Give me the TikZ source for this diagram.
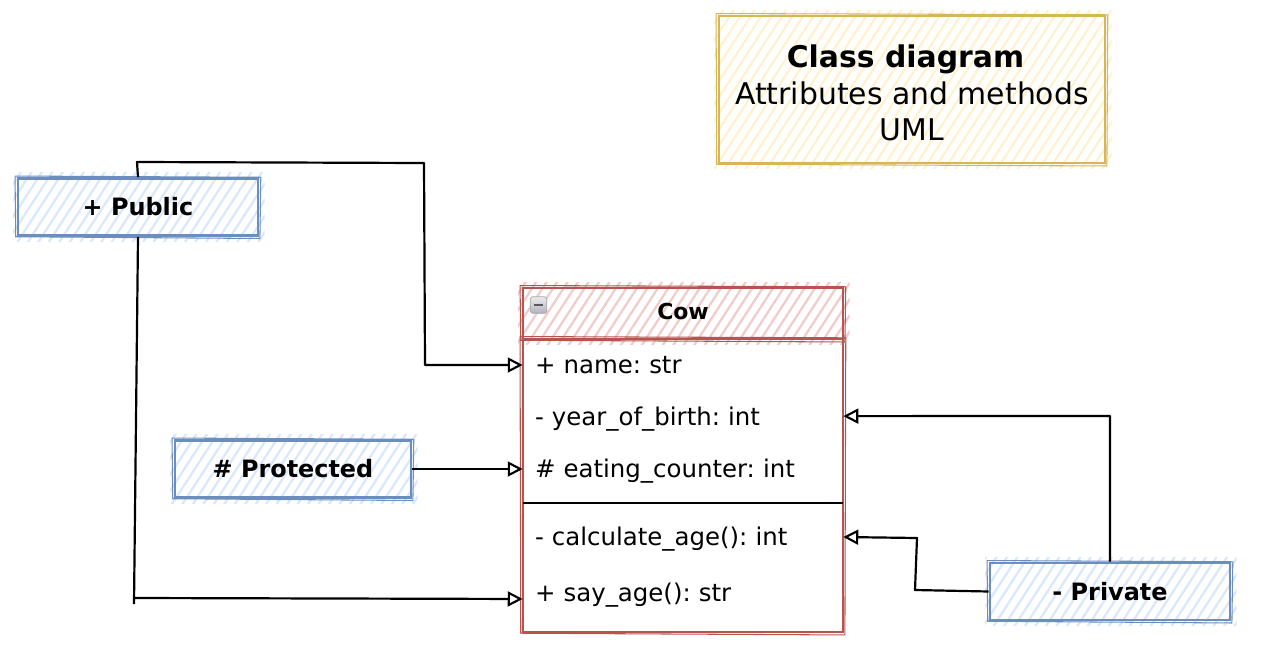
\documentclass[tikz,border=0pt]{standalone}
\usepackage{fontspec}
\setmainfont{DejaVu Sans}
\usetikzlibrary{arrows.meta,patterns.meta,backgrounds}
\definecolor{blueline}{HTML}{6C8EBF}
\definecolor{bluefill}{HTML}{DAE8FC}
\definecolor{redline}{HTML}{B85450}
\definecolor{redfill}{HTML}{F3CBCA}
\definecolor{goldline}{HTML}{D6B656}
\definecolor{goldfill}{HTML}{FFF2CC}
\begin{document}
\begin{tikzpicture}[x=0.02cm,y=-0.02cm,
    sketch box/.style={rectangle,inner sep=0pt,line width=1.6pt,draw=#1line},
    access box/.style={sketch box=blue,font=\fontsize{13.6}{16}\selectfont\bfseries,minimum height=1.14cm},
    class row/.style={rectangle,inner sep=0pt,text width=5.92cm,minimum width=6.4cm,align=left,text height=12.6pt,text depth=2.4pt,font=\fontsize{13.9}{15}\selectfont\frenchspacing},
    open arrow/.style={-{Triangle[open,fill=white,length=8.5pt,width=8.5pt,line width=1.2pt]},line width=1.25pt,line join=round}]
\useasboundingbox (0,0) rectangle (1284,656);

\node [sketch box=gold,minimum width=7.72cm,minimum height=2.94cm,align=center,font=\fontsize{17}{20.7}\selectfont] (TitleBox) at (912,89.5)
    {\rule{0pt}{17pt}\textbf{Class diagram}\hspace*{7.4pt}\\Attributes and methods\\UML};

\node [access box,minimum width=4.8cm] (PublicBox) at (138,207) {+ Public};
\node [access box,minimum width=4.72cm] (ProtectedBox) at (293,469) {\# Protected};
\node [access box,minimum width=4.8cm] (PrivateBox) at (1110,591.5) {- Private};

% class box
\node [sketch box=red,minimum width=6.4cm,minimum height=5.86cm] (CowBody) at (683,485.5) {};
\node [sketch box=red,minimum width=6.4cm,minimum height=1.02cm,text depth=2.2pt,font=\fontsize{12.5}{15}\selectfont\bfseries] (CowHeader) at (683,313.5) {Cow};

% hachure and second pencil stroke
\begin{scope}[on background layer]
\foreach \bx/\col in {TitleBox/gold,PublicBox/blue,ProtectedBox/blue,PrivateBox/blue,CowHeader/red}
   \fill[pattern={Lines[angle=57,distance=5pt,line width=1.3pt]},pattern color=\col fill]
        ([shift={(-2pt,-2.5pt)}]\bx.south west) rectangle ([shift={(3pt,2.5pt)}]\bx.north east);
\end{scope}
\foreach \bx/\col in {TitleBox/gold,PublicBox/blue,ProtectedBox/blue,PrivateBox/blue,CowHeader/red,CowBody/red}
   \draw[draw=\col line,line width=.6pt] ([shift={(-.9pt,.6pt)}]\bx.north west)--([shift={(.8pt,-.1pt)}]\bx.north east)
        --([shift={(.3pt,-.9pt)}]\bx.south east)--([shift={(-.5pt,.1pt)}]\bx.south west)--cycle;

\foreach \name/\y/\txt in {Name/365/{+ name: str},
                           Birth/417/{- year\_of\_birth: int},
                           Counter/469/{\# eating\_counter: int},
                           Age/537/{- calculate\_age(): int},
                           Say/593/{+ say\_age(): str}}
   \node [class row] (\name) at (683,\y) {\txt};

\coordinate (SepLeft) at (523,503);
\coordinate (SepRight) at (843,503);
\draw[line width=.8pt] (SepLeft)--(SepRight);

% collapse icon
\node [rectangle,rounded corners=1pt,draw=gray!70,top color=blue!5!gray!15,bottom color=blue!10!gray!55,minimum size=.33cm,inner sep=0pt] (Toggle) at (538.5,305) {};
\draw[line width=1pt,black!65] ([xshift=-2.7pt]Toggle.center)--([xshift=2.7pt]Toggle.center);

% connectors
\coordinate (PublicTop) at (137,162);
\coordinate (PublicBend) at (424,163);
\coordinate (PublicDown) at (425,365);
\coordinate (PublicDrop) at (134,604);
\coordinate (PublicFoot) at (135,598);
\coordinate (PrivateTurn) at (1110,416);
\coordinate (PrivateBend) at (915,590);
\coordinate (PrivateRise) at (917,538);

\draw[open arrow] (PublicBox.north)--(PublicTop)--(PublicBend)--(PublicDown)--(Name.west);
\draw[open arrow] (PublicBox.south)--(PublicDrop) (PublicFoot)--([yshift=-3.4pt]Say.west);
\draw[open arrow] (ProtectedBox.east)--(Counter.west);
\draw[open arrow] (PrivateBox.north)--(PrivateTurn)--([yshift=.5pt]Birth.east);
\draw[open arrow] (PrivateBox.west)--(PrivateBend)--(PrivateRise)--(Age.east);
\end{tikzpicture}
\end{document}
